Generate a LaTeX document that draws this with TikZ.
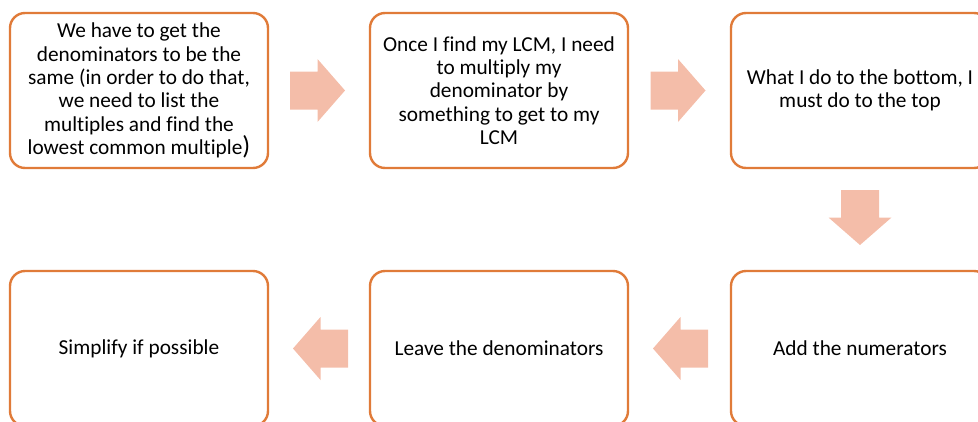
\documentclass[tikz,border=0pt]{standalone}
\usepackage{fontspec}
\setmainfont{Carlito}[Ligatures=CommonOff]
\usetikzlibrary{calc}
\definecolor{boxline}{HTML}{E07B39}
\definecolor{arrowfill}{HTML}{F4BDA9}
\begin{document}
\begin{tikzpicture}[x=1pt,y=-1pt,
  stepbox/.style={draw=boxline, line width=2.4pt, rounded corners=15pt, fill=white,
    minimum width=258pt, minimum height=155pt, align=center, inner sep=0pt,
    font=\fontsize{21.3}{23.3}\selectfont, text=black},
  barrow/.pic={\fill[arrowfill] (-27.5,-19) -- (0,-19) -- (0,-31.5) -- (27.5,0)
    -- (0,31.5) -- (0,19) -- (-27.5,19) -- cycle;}]
\useasboundingbox (0,0) rectangle (978,421);
% top row
\node[stepbox] (b1) at (139,90.5) {We have to get the\\denominators to be the\\same (in order to do that,\\we need to list the\\multiples and find the\\lowest common multiple{\fontsize{26}{24}\selectfont)}};
\node[stepbox] (b2) at (499,90.5) {Once I find my LCM, I need\\to multiply my\\denominator by\\something to get to my\\LCM};
\node[stepbox] (b3) at (860,90.5) {What I do to the bottom, I\\must do to the top};
% bottom row
\node[stepbox] (b4) at (860,348.5) {Add the numerators};
\node[stepbox] (b5) at (499,348.5) {Leave the denominators};
\node[stepbox] (b6) at (139,348.5) {Simplify if possible};
% block arrows between the steps
\pic at ($(b1.east)!0.5!(b2.west)+(-1.5,0)$) {barrow};
\pic at ($(b2.east)!0.5!(b3.west)+(-1.5,0)$) {barrow};
\pic[rotate=-90] at ($(b3.south)!0.5!(b4.north)+(0,-2)$) {barrow};
\pic[rotate=180] at ($(b4.west)!0.5!(b5.east)+(1,0)$) {barrow};
\pic[rotate=180] at ($(b5.west)!0.5!(b6.east)+(1.5,0)$) {barrow};
\end{tikzpicture}
\end{document}
